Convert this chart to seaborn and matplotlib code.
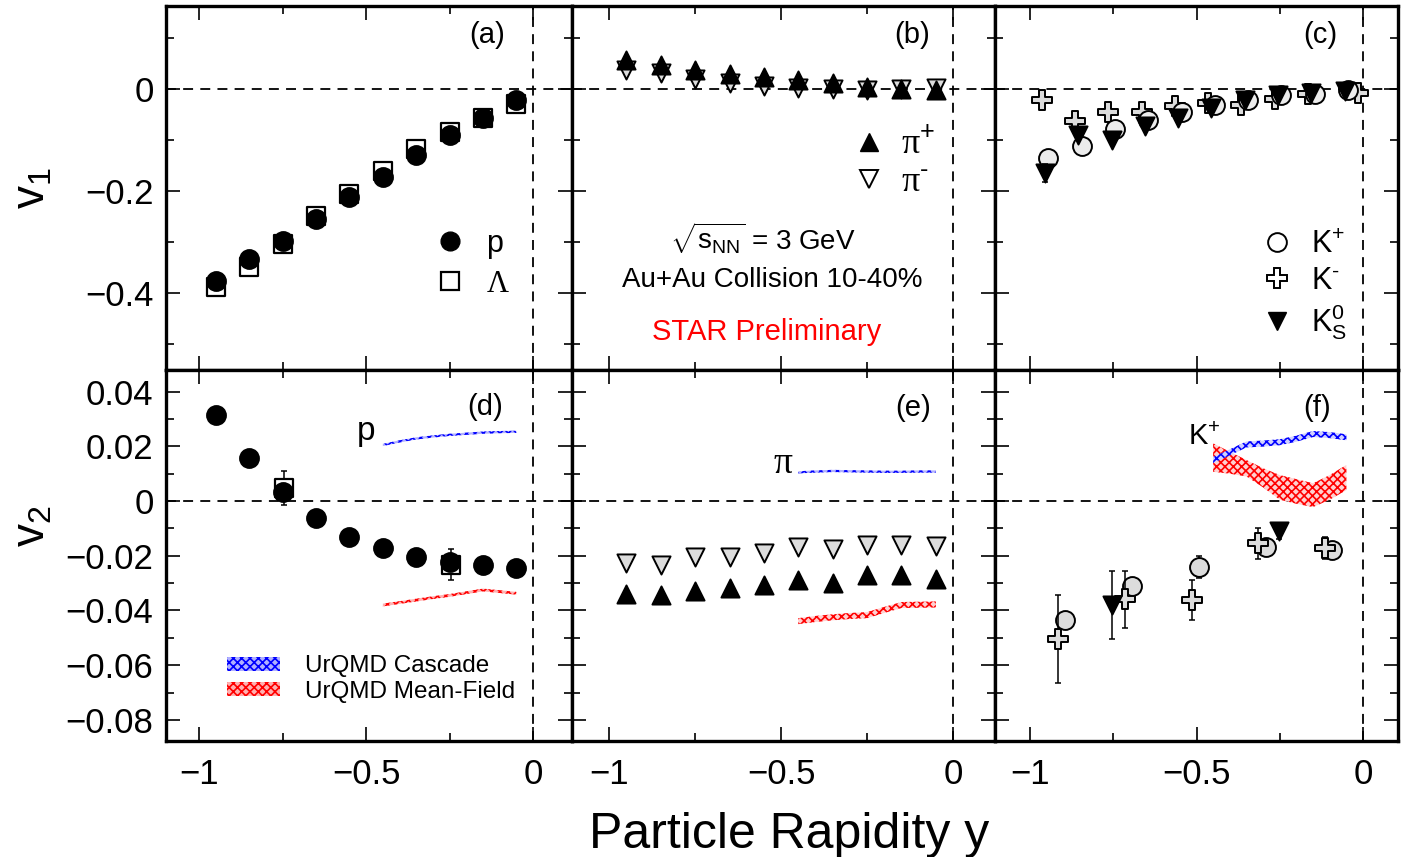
import numpy as np
import pandas as pd
import matplotlib
matplotlib.use("Agg")
import matplotlib.pyplot as plt
import seaborn as sns
from matplotlib.lines import Line2D
from matplotlib.patches import Patch
from matplotlib.ticker import MultipleLocator, FuncFormatter

# ---------------- data ----------------
y_bins = [-0.95, -0.85, -0.75, -0.65, -0.55, -0.45, -0.35, -0.25, -0.15, -0.05]

# (a) v1 protons / Lambda
v1_p = [-0.376, -0.334, -0.298, -0.255, -0.212, -0.172, -0.129, -0.090, -0.056, -0.022]
v1_lam = [-0.388, -0.348, -0.303, -0.249, -0.205, -0.160, -0.118, -0.085, -0.056, -0.030]

# (b) v1 pions
v1_pip = [0.057, 0.047, 0.038, 0.030, 0.023, 0.017, 0.011, 0.005, 0.000, -0.002]
v1_pim = [0.037, 0.031, 0.019, 0.011, 0.006, 0.003, 0.001, -0.001, 0.000, 0.002]

# (c) v1 kaons
x_kp_v1 = [-0.945, -0.845, -0.745, -0.645, -0.545, -0.445, -0.345, -0.245, -0.145, -0.045]
v1_kp = [-0.136, -0.111, -0.079, -0.061, -0.045, -0.031, -0.022, -0.012, -0.010, -0.001]
x_km_v1 = [-0.965, -0.865, -0.765, -0.665, -0.565, -0.465, -0.365, -0.265, -0.165, -0.015]
v1_km = [-0.022, -0.062, -0.044, -0.044, -0.033, -0.028, -0.031, -0.020, -0.010, -0.008]
x_k0_v1 = [-0.955, -0.855, -0.755, -0.655, -0.555, -0.455, -0.355, -0.255, -0.155, -0.055]
v1_k0 = [-0.165, -0.090, -0.100, -0.073, -0.056, -0.038, -0.022, -0.012, -0.007, -0.003]
v1_k0_err = [0.018, 0.004, 0.004, 0.003, 0.003, 0.002, 0.002, 0.002, 0.002, 0.002]

# (d) v2 protons / Lambda
v2_p = [0.0314, 0.0156, 0.0032, -0.0063, -0.0132, -0.0173, -0.0204, -0.0222, -0.0234, -0.0246]
x_lam_v2 = [-0.745, -0.245]
v2_lam = [0.0049, -0.0232]
v2_lam_err = [0.0062, 0.0055]

# (e) v2 pions
v2_pip = [-0.0338, -0.0344, -0.0329, -0.0317, -0.0305, -0.0289, -0.0301, -0.0271, -0.0271, -0.0285]
v2_pim = [-0.0228, -0.0234, -0.0204, -0.0204, -0.0191, -0.0169, -0.0177, -0.0161, -0.0161, -0.0164]

# (f) v2 kaons
x_kp_v2 = [-0.895, -0.695, -0.492, -0.291, -0.094]
v2_kp = [-0.0435, -0.0310, -0.0240, -0.0167, -0.0179]
v2_kp_err = [0.003, 0.003, 0.004, 0.003, 0.003]
x_km_v2 = [-0.915, -0.715, -0.515, -0.315, -0.114]
v2_km = [-0.0505, -0.0359, -0.0362, -0.0155, -0.0171]
v2_km_err = [0.016, 0.0105, 0.0073, 0.0055, 0.004]
x_k0_v2 = [-0.755, -0.251]
v2_k0 = [-0.038, -0.0109]
v2_k0_err = [0.0125, 0.003]

# UrQMD model bands (v2)
x_mod = [-0.45, -0.40, -0.35, -0.30, -0.25, -0.20, -0.15, -0.10, -0.05]
casc_p = [0.0205, 0.0218, 0.0229, 0.0236, 0.0242, 0.0246, 0.0250, 0.0252, 0.0253]
mf_p = [-0.0380, -0.0371, -0.0362, -0.0353, -0.0345, -0.0335, -0.0325, -0.0331, -0.0337]
casc_pi = [0.0105, 0.0108, 0.0110, 0.0109, 0.0108, 0.0107, 0.0107, 0.0108, 0.0108]
mf_pi = [-0.0439, -0.0431, -0.0425, -0.0420, -0.0417, -0.0398, -0.0380, -0.0379, -0.0378]
casc_k = [0.0150, 0.0178, 0.0207, 0.0210, 0.0215, 0.0228, 0.0245, 0.0241, 0.0233]
mf_k_lo = [0.0107, 0.0100, 0.0090, 0.0050, 0.0005, -0.0010, -0.0022, 0.0005, 0.0040]
mf_k_hi = [0.0211, 0.0180, 0.0150, 0.0120, 0.0095, 0.0080, 0.0065, 0.0095, 0.0132]

# ---------------- style ----------------
sns.set_theme(style="ticks")
plt.rcParams["font.family"] = ["Liberation Sans", "DejaVu Sans"]
plt.rcParams["mathtext.fontset"] = "custom"
plt.rcParams["mathtext.rm"] = "Liberation Sans"
plt.rcParams["mathtext.it"] = "Liberation Sans:italic"
plt.rcParams["mathtext.bf"] = "Liberation Sans:bold"
plt.rcParams["hatch.linewidth"] = 1.2
plt.rcParams["axes.unicode_minus"] = True
for k in ["text.color", "axes.labelcolor", "xtick.color", "ytick.color",
          "axes.edgecolor", "xtick.labelcolor", "ytick.labelcolor"]:
    plt.rcParams[k] = "black"

fig = plt.figure(figsize=(14.08, 8.57), dpi=100)
W, H = 1408.0, 857.0
cols = [(166, 572), (572, 995), (995, 1398)]
rows = [(6, 370), (370, 741)]
xlims = [(-1.100, 0.117), (-1.108, 0.122), (-1.105, 0.105)]
ylims = [(-0.551, 0.163), (-0.0877, 0.0479)]


def fmt(v, pos):
    if abs(v) < 1e-9:
        return "0"
    return ("%g" % v).replace("-", "\u2212")


axes = [[None] * 3 for _ in range(2)]
for r, (t, b) in enumerate(rows):
    for c, (l, rr) in enumerate(cols):
        ax = fig.add_axes([l / W, 1 - b / H, (rr - l) / W, (b - t) / H])
        ax.set_xlim(*xlims[c])
        ax.set_ylim(*ylims[r])
        ax.xaxis.set_major_locator(MultipleLocator(0.5))
        ax.xaxis.set_minor_locator(MultipleLocator(0.25))
        if r == 0:
            ax.yaxis.set_major_locator(MultipleLocator(0.2))
            ax.yaxis.set_minor_locator(MultipleLocator(0.1))
        else:
            ax.yaxis.set_major_locator(MultipleLocator(0.02))
            ax.yaxis.set_minor_locator(MultipleLocator(0.01))
        ax.xaxis.set_major_formatter(FuncFormatter(fmt))
        ax.yaxis.set_major_formatter(FuncFormatter(fmt))
        ax.tick_params(which="both", direction="in", top=True, right=True,
                       width=1.2, colors="black", labelsize=25)
        ax.tick_params(which="major", length=10, pad=9)
        ax.tick_params(which="minor", length=6)
        ax.tick_params(axis="x", which="major", pad=12)
        if r == 0:
            ax.tick_params(labelbottom=False)
        if c > 0:
            ax.tick_params(labelleft=False)
        for sp in ax.spines.values():
            sp.set_linewidth(2.4)
            sp.set_color("black")
        ax.axhline(0, color="black", lw=1.3, ls=(0, (5.5, 4)), zorder=0)
        ax.axvline(0, color="black", lw=1.3, ls=(0, (5.5, 4)), zorder=0)
        ax.set_xlabel("")
        ax.set_ylabel("")
        axes[r][c] = ax

axa, axb, axc = axes[0]
axd, axe, axf = axes[1]


def sc(ax, x, y, marker, s, fc, ec="black", lw=1.4, z=3):
    sns.scatterplot(x=x, y=y, ax=ax, marker=marker, s=s, color=fc,
                    edgecolor=ec, linewidth=lw, zorder=z, legend=False)


def eb(ax, x, y, err, z=2):
    ax.errorbar(x, y, yerr=err, fmt="none", ecolor="black", elinewidth=1.1,
                capsize=2, capthick=1.1, zorder=z)


def band(ax, x, lo, hi, color, face):
    ax.fill_between(x, lo, hi, facecolor=face, edgecolor=color, hatch="xxxx",
                    linewidth=0, zorder=1)


S_CIRC = 185
S_TRI = 170
GRAY = "#dcdcdc"

# (a)
sc(axa, y_bins, v1_lam, "s", 175, "white", lw=1.6, z=3)
sc(axa, y_bins, v1_p, "o", S_CIRC, "black", z=4)

# (b)
sc(axb, y_bins, v1_pim, "v", S_TRI, GRAY, lw=1.4, z=3)
sc(axb, y_bins, v1_pip, "^", S_TRI, "black", z=4)

# (c)
sc(axc, x_km_v1, v1_km, "P", 200, GRAY, lw=1.4, z=3)
sc(axc, x_kp_v1, v1_kp, "o", S_CIRC, "#ececec", lw=1.4, z=4)
eb(axc, x_k0_v1, v1_k0, v1_k0_err, z=4)
sc(axc, x_k0_v1, v1_k0, "v", S_TRI, "black", z=5)

# (d)
band(axd, x_mod, np.array(casc_p) - 0.0004, np.array(casc_p) + 0.0004, "blue", "#b0b0ff")
band(axd, x_mod, np.array(mf_p) - 0.0005, np.array(mf_p) + 0.0005, "red", "#ffb0b0")
eb(axd, x_lam_v2, v2_lam, v2_lam_err)
sc(axd, x_lam_v2, v2_lam, "s", 175, "white", lw=1.6, z=3)
sc(axd, y_bins, v2_p, "o", S_CIRC, "black", z=4)

# (e)
band(axe, x_mod, np.array(casc_pi) - 0.0004, np.array(casc_pi) + 0.0004, "blue", "#b0b0ff")
band(axe, x_mod, np.array(mf_pi) - 0.0011, np.array(mf_pi) + 0.0011, "red", "#ffd0d0")
sc(axe, y_bins, v2_pim, "v", S_TRI, GRAY, lw=1.4, z=3)
sc(axe, y_bins, v2_pip, "^", S_TRI, "black", z=4)

# (f)
band(axf, x_mod, mf_k_lo, mf_k_hi, "red", "#ffd0d0")
band(axf, x_mod, np.array(casc_k) - 0.0011, np.array(casc_k) + 0.0011, "blue", "#d0d0ff")
eb(axf, x_kp_v2, v2_kp, v2_kp_err)
sc(axf, x_kp_v2, v2_kp, "o", S_CIRC, GRAY, lw=1.4, z=3)
eb(axf, x_km_v2, v2_km, v2_km_err, z=4)
sc(axf, x_km_v2, v2_km, "P", 200, GRAY, lw=1.4, z=5)
eb(axf, x_k0_v2, v2_k0, v2_k0_err, z=4)
sc(axf, x_k0_v2, v2_k0, "v", S_TRI, "black", z=5)

# panel labels
for ax, lab, (px, py) in zip(
        [axa, axb, axc, axd, axe, axf],
        ["(a)", "(b)", "(c)", "(d)", "(e)", "(f)"],
        [(0.79, 0.92), (0.803, 0.92), (0.806, 0.92),
         (0.786, 0.90), (0.806, 0.898), (0.80, 0.898)]):
    ax.text(px, py, lab, transform=ax.transAxes, ha="center", va="center",
            fontsize=21)

# legends
LFS = 22
hp = [Line2D([], [], ls="", marker="o", ms=13.5, mfc="black", mec="black"),
      Line2D([], [], ls="", marker="s", ms=13, mfc="white", mec="black", mew=1.6)]
leg = axa.legend(hp, ["p", "\u039b"], loc="center left", bbox_to_anchor=(0.612, 0.292),
                 frameon=False, fontsize=LFS, borderpad=0, handlelength=1.3,
                 handletextpad=0.55, labelspacing=0.35)
leg.get_texts()[1].set_fontfamily("Liberation Serif")

hpi = [Line2D([], [], ls="", marker="^", ms=13, mfc="black", mec="black"),
       Line2D([], [], ls="", marker="v", ms=13, mfc="white", mec="black", mew=1.4)]
leg = axb.legend(hpi, ["\u03c0$^{+}$", "\u03c0$^{\\text{-}}$"], loc="center left",
                 bbox_to_anchor=(0.612, 0.565), frameon=False, fontsize=26,
                 borderpad=0, handlelength=1.1, handletextpad=0.35, labelspacing=0.12)
for t in leg.get_texts():
    t.set_fontfamily(["Liberation Serif", "DejaVu Sans"])

hk = [Line2D([], [], ls="", marker="o", ms=13.5, mfc="white", mec="black", mew=1.4),
      Line2D([], [], ls="", marker="P", ms=14, mfc="white", mec="black", mew=1.4),
      Line2D([], [], ls="", marker="v", ms=13, mfc="black", mec="black")]
axc.legend(hk, ["K$^{+}$", "K$^{\\text{-}}$", "K$^{0}_{\\mathrm{S}}$"], loc="center left",
           bbox_to_anchor=(0.613, 0.231), frameon=False, fontsize=LFS,
           borderpad=0, handlelength=1.3, handletextpad=0.45, labelspacing=0.2)

hm = [Patch(facecolor="#b0b0ff", edgecolor="blue", hatch="xxxx", linewidth=0),
      Patch(facecolor="#ffb0b0", edgecolor="red", hatch="xxxx", linewidth=0)]
axd.legend(hm, ["UrQMD Cascade", "UrQMD Mean-Field"], loc="center left",
           bbox_to_anchor=(0.121, 0.167), frameon=False, fontsize=17.5,
           borderpad=0, handlelength=2.15, handleheight=0.5,
           handletextpad=1.05, labelspacing=0.15)

# model labels
axd.text(-0.471, 0.0222, "p", ha="right", va="baseline", fontsize=24)
axe.text(-0.466, 0.0102, "\u03c0", ha="right", va="baseline", fontsize=27,
         family="Liberation Serif")
axf.text(-0.429, 0.0205, "K$^{+}$", ha="right", va="baseline", fontsize=21)

# info text in (b)
axb.text(0.452, 0.363, r"$\sqrt{\mathrm{s}_{\mathrm{NN}}}$ = 3 GeV", transform=axb.transAxes,
         ha="center", va="center", fontsize=20)
axb.text(0.473, 0.247, "Au+Au Collision 10-40%", transform=axb.transAxes,
         ha="center", va="center", fontsize=20)
axb.text(0.461, 0.104, "STAR Preliminary", transform=axb.transAxes,
         ha="center", va="center", fontsize=21, color="#ff0000")

# axis titles
fig.text(0.5607, 1 - 848 / H, "Particle Rapidity y", ha="center", va="baseline",
         fontsize=36)
fig.text(32 / W, 1 - 188 / H, "v$_{1}$", rotation=90, ha="center", va="center",
         fontsize=33)
fig.text(32 / W, 1 - 526 / H, "v$_{2}$", rotation=90, ha="center", va="center",
         fontsize=33)

fig.savefig("out.png", dpi=100)
